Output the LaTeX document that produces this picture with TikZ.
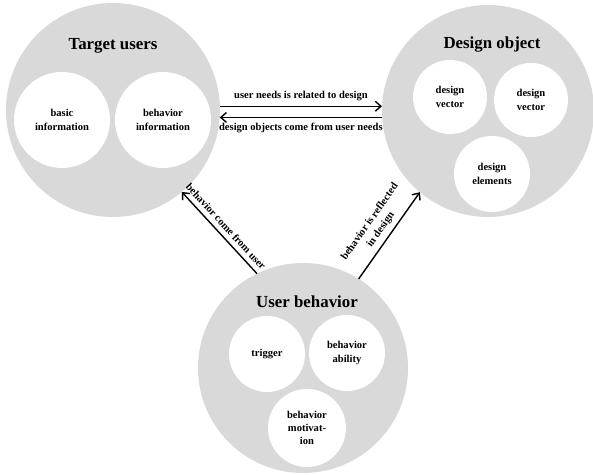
\documentclass[tikz,border=0pt]{standalone}
\usepackage{fontspec}
\setmainfont{Liberation Serif}
\usetikzlibrary{arrows.meta}
\definecolor{circleGray}{RGB}{217, 217, 217}

\begin{document}
\begin{tikzpicture}[
    bigcirc/.style={circle, fill=circleGray, inner sep=0pt, outer sep=0pt, minimum size=#1},
    smallcirc/.style={circle, fill=white, inner sep=0pt, outer sep=0pt, minimum size=#1,
      align=center, font=\fontsize{7.5}{9.5}\selectfont\bfseries},
    title/.style={font=\fontsize{12}{14}\selectfont\bfseries},
    link/.style={line width=1pt, -{Straight Barb[length=4pt,width=7pt]}},
    lbl/.style={font=\fontsize{7.5}{9.5}\selectfont\bfseries, align=center}
  ]
  \useasboundingbox (0,0) rectangle (14.825,11.875);
  % target users
  \node[bigcirc=5.35cm] (tu) at (2.825,9.125) {};
  \node[title] (tuTitle) at (2.825,10.725) {Target users};
  \node[smallcirc=2.4cm] (basic) at (1.55,8.875) {basic\\information};
  \node[smallcirc=2.4cm] (behinfo) at (4.075,8.875) {behavior\\information};
  % design object
  \node[bigcirc=5.3cm] (do) at (12.2,9.1) {};
  \node[title] (doTitle) at (12.3,10.75) {Design object};
  \node[smallcirc=1.85cm] (vecA) at (11.25,9.45) {design\\vector};
  \node[smallcirc=1.85cm] (vecB) at (13.275,9.375) {design\\vector};
  \node[smallcirc=1.9cm] (elem) at (12.3,7.525) {design\\elements};
  % user behavior
  \node[bigcirc=5.25cm] (ub) at (7.575,2.675) {};
  \node[title] (ubTitle) at (7.675,4.325) {User behavior};
  \node[smallcirc=1.9cm] (trig) at (6.675,3.025) {trigger};
  \node[smallcirc=1.9cm] (abil) at (8.675,3.05) {behavior\\ability};
  \node[smallcirc=1.95cm] (motiv) at (7.675,1.175) {behavior\\motivat-\\ion};
  % connections
  \draw[link] (tu.2) -- (tu.2 -| do.west)
    node[lbl, midway, above] {user needs is related to design};
  \draw[link] (tu.-4 -| do.west) -- (tu.-4)
    node[lbl, midway, below] {design objects come from user needs};
  \draw[link] (ub.116) -- (tu.-50)
    node[lbl, midway, sloped, above] {behavior come from user};
  \draw[link] (ub.58) -- (do.230)
    node[lbl, midway, sloped, above] {behavior is reflected\\in design};
\end{tikzpicture}
\end{document}
